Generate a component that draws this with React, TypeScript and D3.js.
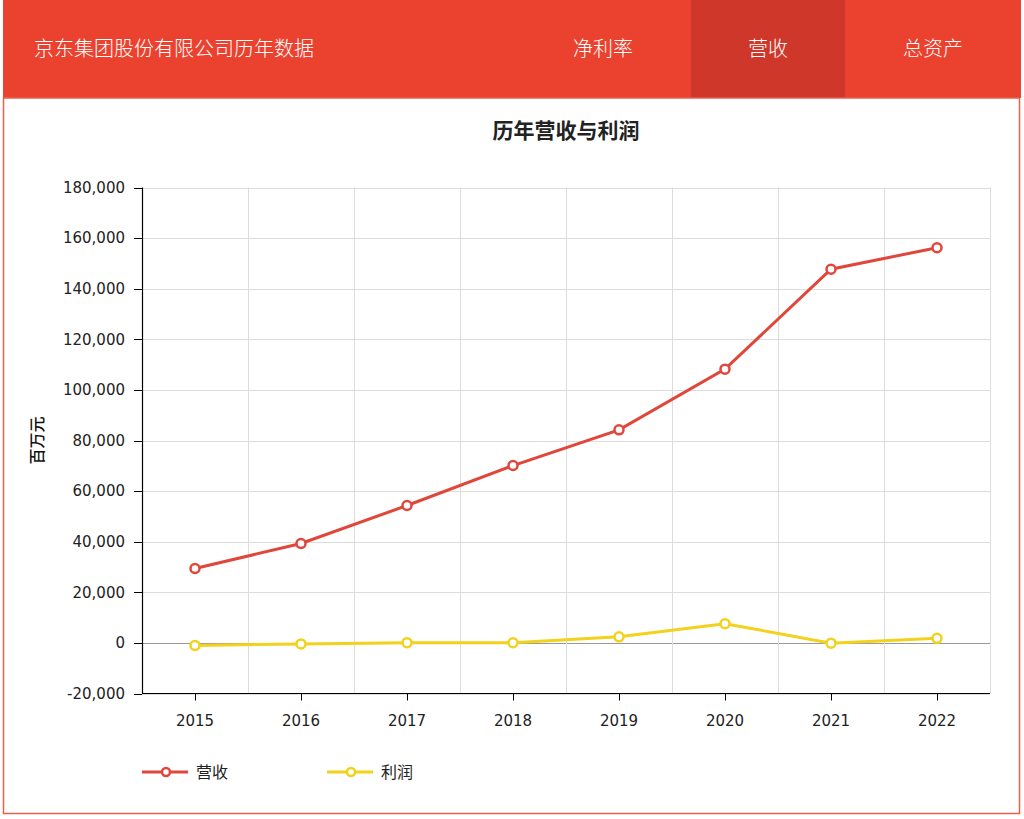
import React from "react";
import * as d3 from "d3";

const years = ["2015", "2016", "2017", "2018", "2019", "2020", "2021", "2022"];
const revenue = [29400, 39300, 54300, 70100, 84200, 108200, 147700, 156200];
const profit = [-1000, -400, 100, 50, 2400, 7600, -100, 1800];
const yTicks = [-20000, 0, 20000, 40000, 60000, 80000, 100000, 120000, 140000, 160000, 180000];
const tabs = ["净利率", "营收", "总资产"];
const seriesNames = ["营收", "利润"];
const seriesColors = ["#E0473A", "#F2D21B"];

const W = 1024;
const H = 819;
const M = { left: 142, right: 990, top: 187.5, bottom: 693.5 };
const FONT = "'DejaVu Sans', Verdana, sans-serif";
const CJK = "'Noto Sans CJK SC', 'Noto Sans', sans-serif";

export default function App() {
  const x = d3.scaleBand<string>().domain(years).range([M.left, M.right]).padding(0);
  const y = d3.scaleLinear().domain([-20000, 180000]).range([M.bottom, M.top]);
  const cx = (d: string) => (x(d) as number) + x.bandwidth() / 2;
  const line = d3
    .line<number>()
    .x((_, i) => cx(years[i]))
    .y((v) => y(v));
  const series = [revenue, profit];
  const tabCenters = [603, 768, 933];
  const fmt = (t: number) => d3.format(",")(t).replace("\u2212", "-");

  return (
    <div style={{ position: "absolute", left: 0, top: 0 }}>
      <svg width={W} height={H} style={{ display: "block", background: "#fff" }}>
        {/* header */}
        <rect x={3} y={0} width={1018} height={98} fill="#EB4230" />
        <rect x={691} y={0} width={154} height={98} fill="#D0372B" />
        <text x={34} y={49} dy="0.35em" fill="#fff" fontSize={20} fontFamily={CJK} fontWeight={300}>
          京东集团股份有限公司历年数据
        </text>
        {tabs.map((t, i) => (
          <text key={t} x={tabCenters[i]} y={49} dy="0.35em" textAnchor="middle" fill="#fff" fontSize={20} fontFamily={CJK} fontWeight={300}>
            {t}
          </text>
        ))}
        {/* content border */}
        <rect x={3.5} y={98} width={1016} height={715.5} fill="none" stroke="#E8604D" strokeWidth={1.5} />

        {/* title */}
        <text x={566} y={131} dy="0.35em" textAnchor="middle" fontSize={21} fontWeight="bold" fontFamily={CJK} fill="#222">
          历年营收与利润
        </text>

        {/* horizontal grid */}
        {yTicks.map((t) => (
          <line key={"h" + t} x1={M.left} x2={M.right} y1={Math.round(y(t)) + 0.5} y2={Math.round(y(t)) + 0.5}
            stroke={t === 0 ? "#999" : "#ddd"} strokeWidth={1} />
        ))}
        {/* vertical grid */}
        {years.map((yr) => {
          const xx = Math.round((x(yr) as number) + x.bandwidth()) + 0.5;
          return <line key={"v" + yr} x1={xx} x2={xx} y1={M.top} y2={M.bottom} stroke="#ddd" strokeWidth={1} />;
        })}

        {/* y axis */}
        <line x1={M.left + 0.5} x2={M.left + 0.5} y1={M.top} y2={M.bottom} stroke="#000" strokeWidth={1.2} />
        {yTicks.map((t) => (
          <g key={"yt" + t}>
            <line x1={M.left - 8} x2={M.left} y1={Math.round(y(t)) + 0.5} y2={Math.round(y(t)) + 0.5} stroke="#000" />
            <text x={M.left - 17} y={y(t)} dy="0.35em" textAnchor="end" fontSize={15} fontFamily={FONT} fill="#222">
              {fmt(t)}
            </text>
          </g>
        ))}
        <text transform={`translate(37,${(M.top + M.bottom) / 2}) rotate(-90)`} dy="0.35em" textAnchor="middle" fontSize={16} fontWeight={500} fontFamily={CJK} fill="#111">
          百万元
        </text>

        {/* x axis */}
        <line x1={M.left} x2={M.right} y1={M.bottom} y2={M.bottom} stroke="#000" strokeWidth={1.2} />
        {years.map((yr) => (
          <g key={"xt" + yr}>
            <line x1={Math.round(cx(yr)) + 0.5} x2={Math.round(cx(yr)) + 0.5} y1={M.bottom} y2={M.bottom + 7} stroke="#000" />
            <text x={cx(yr)} y={721} dy="0.35em" textAnchor="middle" fontSize={15} fontFamily={FONT} fill="#222">
              {yr}
            </text>
          </g>
        ))}

        {/* series */}
        {series.map((vals, si) => (
          <g key={"s" + si}>
            <path d={line(vals) as string} fill="none" stroke={seriesColors[si]} strokeWidth={3} />
            {vals.map((v, i) => (
              <circle key={i} cx={cx(years[i])} cy={y(v)} r={4.5} fill="#fff" stroke={seriesColors[si]} strokeWidth={2.5} />
            ))}
          </g>
        ))}

        {/* legend */}
        {seriesNames.map((n, i) => {
          const lx = 142 + i * 185;
          return (
            <g key={"lg" + n}>
              <line x1={lx} x2={lx + 46} y1={772} y2={772} stroke={seriesColors[i]} strokeWidth={3} />
              <circle cx={lx + 24} cy={772} r={4} fill="#fff" stroke={seriesColors[i]} strokeWidth={2.5} />
              <text x={lx + 54} y={772} dy="0.35em" fontSize={16} fontFamily={CJK} fill="#222">
                {n}
              </text>
            </g>
          );
        })}
      </svg>
    </div>
  );
}
